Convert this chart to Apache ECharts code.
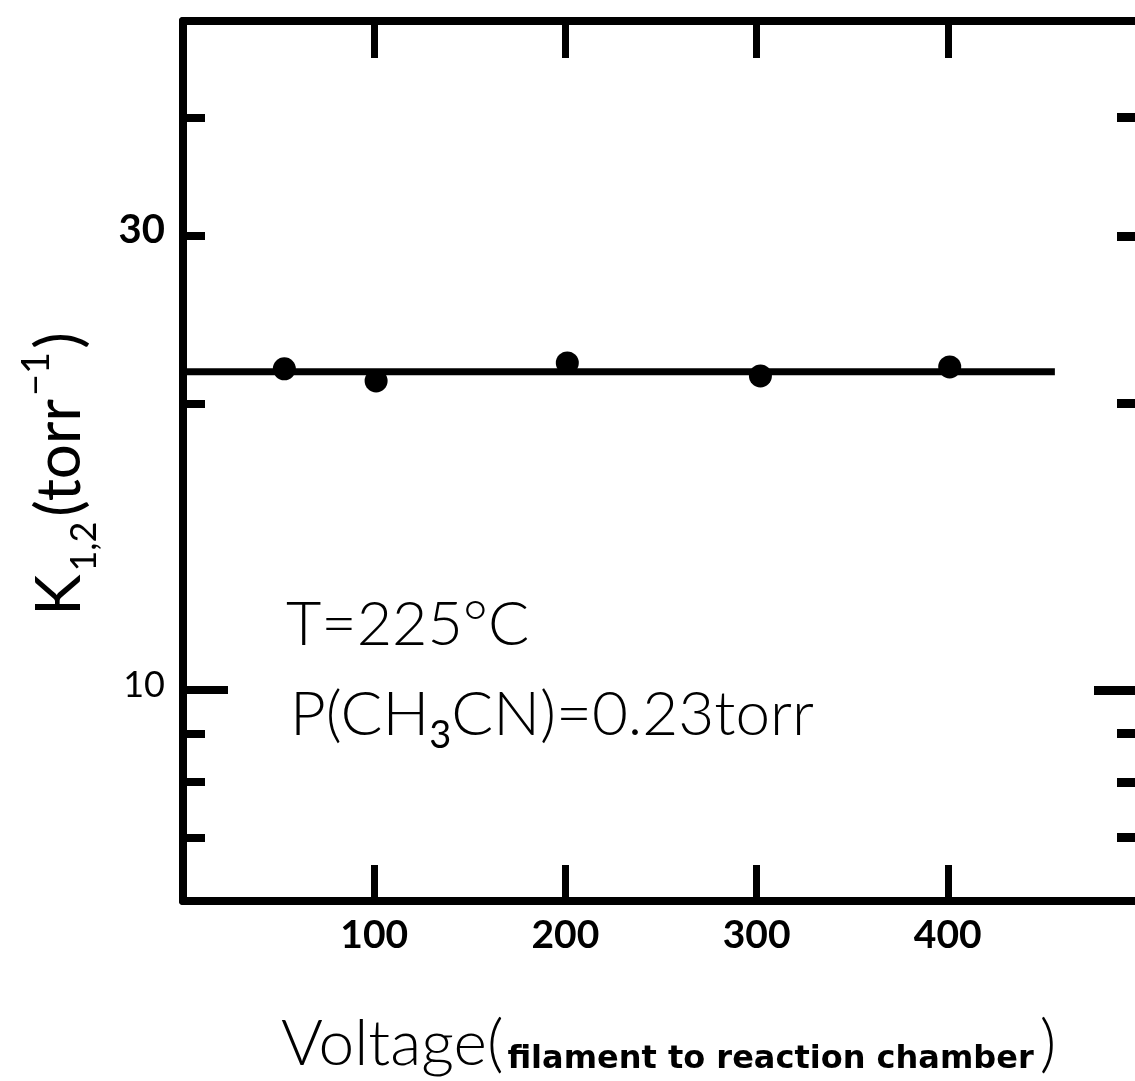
<!DOCTYPE html>
<html>
<head>
<meta charset="utf-8">
<script src="https://cdn.jsdelivr.net/npm/echarts@6/dist/echarts.min.js"></script>
<style>
  html, body { margin: 0; padding: 0; background: #fff; }
  #chart { width: 1135px; height: 1081px; }
</style>
</head>
<body>
<div id="chart"></div>
<script>
// Measured rate constants vs. filament-to-reaction-chamber voltage
const voltage = [53, 101, 201, 302, 401];
const kValues = [21.76, 21.13, 22.07, 21.39, 21.86];

// Horizontal fit line through the points
const fitVoltage = [0, 456];
const fitK = [21.6, 21.6];

// Tick / label positions
const xTickValues = [100, 200, 300, 400];
const yShortTickValues = [7, 8, 9, 20, 30, 40];
const yLongTickValues = [10];
const yLabelValues = [10, 30];

const INK = '#000';
const FONT = 'Lato, "Liberation Sans", sans-serif';

const chart = echarts.init(document.getElementById('chart'), null, { renderer: 'canvas' });

const yBase = { type: 'log', logBase: 10, min: 6, max: 50.5, splitLine: { show: false } };

chart.setOption({
  backgroundColor: '#fff',
  animation: false,
  grid: { left: 183, top: 21, width: 956, height: 880, containLabel: false, outerBoundsMode: 'none' },
  xAxis: [
    {
      type: 'value', min: 0, max: 500, position: 'bottom',
      axisLine: { lineStyle: { color: INK, width: 8 } },
      axisTick: { inside: true, length: 36, customValues: xTickValues, lineStyle: { color: INK, width: 7 } },
      axisLabel: {
        customValues: xTickValues, margin: 15, color: INK,
        fontFamily: FONT, fontWeight: 'bold', fontSize: 39
      },
      splitLine: { show: false }
    },
    {
      type: 'value', min: 0, max: 500, position: 'top',
      axisLine: { lineStyle: { color: INK, width: 8 } },
      axisTick: { inside: true, length: 37, customValues: xTickValues, lineStyle: { color: INK, width: 7 } },
      axisLabel: { show: false },
      splitLine: { show: false }
    }
  ],
  yAxis: [
    Object.assign({}, yBase, {
      position: 'left', offset: 0,
      axisLine: { lineStyle: { color: INK, width: 8 } },
      axisTick: { inside: true, length: 22, customValues: yShortTickValues, lineStyle: { color: INK, width: 8 } },
      axisLabel: {
        customValues: yLabelValues, margin: 18, color: INK,
        formatter: v => (Math.round(v) === 30 ? '{big|30}' : '{small|10}'),
        rich: {
          big: { fontFamily: FONT, fontWeight: 'bold', fontSize: 40, color: INK, padding: [0, 0, 12, 0] },
          small: { fontFamily: FONT, fontWeight: 'normal', fontSize: 36, color: INK, padding: [0, 0, 10, 0] }
        }
      }
    }),
    Object.assign({}, yBase, {
      position: 'left', offset: 0,
      axisLine: { show: false },
      axisTick: { inside: true, length: 45, customValues: yLongTickValues, lineStyle: { color: INK, width: 8 } },
      axisLabel: { show: false }
    }),
    Object.assign({}, yBase, {
      position: 'right', offset: 0,
      axisLine: { lineStyle: { color: INK, width: 8 } },
      axisTick: { inside: true, length: 22, customValues: yShortTickValues, lineStyle: { color: INK, width: 9 } },
      axisLabel: { show: false }
    }),
    Object.assign({}, yBase, {
      position: 'right', offset: 0,
      axisLine: { show: false },
      axisTick: { inside: true, length: 45, customValues: yLongTickValues, lineStyle: { color: INK, width: 9 } },
      axisLabel: { show: false }
    })
  ],
  series: [
    {
      type: 'line', xAxisIndex: 0, yAxisIndex: 0,
      data: fitVoltage.map((v, i) => [v, fitK[i]]),
      showSymbol: false, symbol: 'none',
      lineStyle: { color: INK, width: 7 }, z: 2
    },
    {
      type: 'scatter', xAxisIndex: 0, yAxisIndex: 0,
      data: voltage.map((v, i) => [v, kValues[i]]),
      symbol: 'circle', symbolSize: 23,
      itemStyle: { color: INK, opacity: 1 }, z: 3
    }
  ],
  graphic: [
    {
      // Y axis title, reading bottom to top
      type: 'text', x: 60, y: 474, rotation: Math.PI / 2,
      style: {
        text: '{m|K}{s|1,2}{m|(torr}{u|\u22121}{m|)}',
        align: 'center', verticalAlign: 'middle',
        rich: {
          m: { fontFamily: FONT, fontSize: 62, lineHeight: 84, verticalAlign: 'middle', fill: INK },
          s: { fontFamily: FONT, fontSize: 36, lineHeight: 20, verticalAlign: 'bottom', fill: INK, padding: [0, 5, 0, 3] },
          u: { fontFamily: FONT, fontSize: 38, lineHeight: 12, verticalAlign: 'top', fill: INK, padding: [0, 3, 0, 3] }
        }
      }
    },
    {
      // X axis title
      type: 'text', x: 281, y: 1076,
      style: {
        text: '{m|Voltage(}{s|filament to reaction chamber}{m|)}',
        align: 'left', verticalAlign: 'bottom',
        rich: {
          m: { fontFamily: FONT, fontWeight: 300, fontSize: 64, lineHeight: 64, verticalAlign: 'bottom', fill: INK },
          s: { fontFamily: '"DejaVu Sans", sans-serif', fontWeight: 'bold', fontSize: 32, lineHeight: 34, verticalAlign: 'bottom', fill: INK, padding: [0, 6, 0, 4] }
        }
      }
    },
    {
      type: 'text', x: 286, y: 625,
      style: {
        text: 'T=225\u00B0C',
        align: 'left', verticalAlign: 'middle',
        font: '300 61px ' + FONT, fill: INK
      }
    },
    {
      type: 'text', x: 290, y: 715,
      style: {
        text: '{m|P(CH}{s|3}{m|CN)=0.23torr}',
        align: 'left', verticalAlign: 'middle',
        rich: {
          m: { fontFamily: FONT, fontWeight: 300, fontSize: 62, lineHeight: 80, verticalAlign: 'middle', fill: INK },
          s: { fontFamily: FONT, fontWeight: 'normal', fontSize: 38, lineHeight: 16, verticalAlign: 'bottom', fill: INK }
        }
      }
    }
  ]
});
</script>
</body>
</html>
